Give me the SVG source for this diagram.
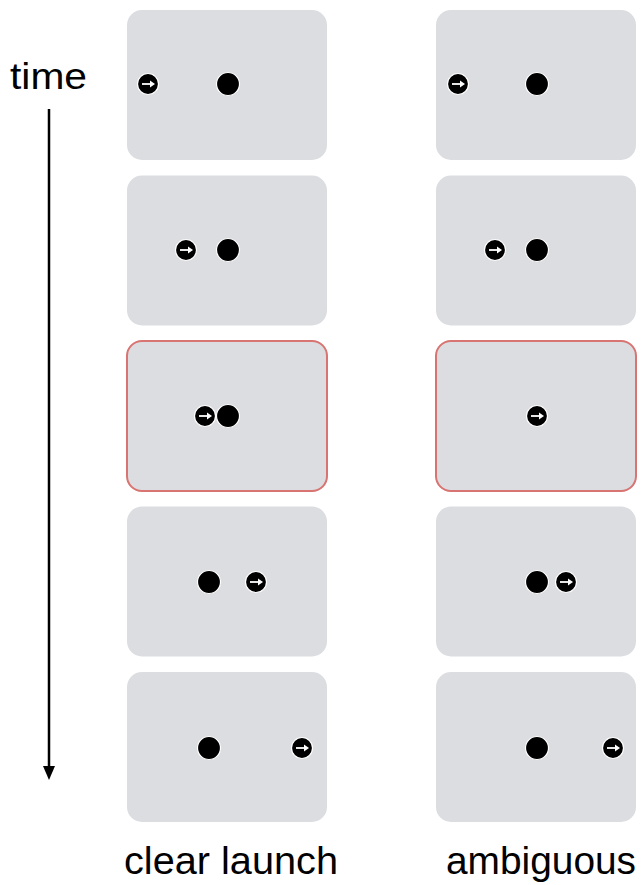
<svg xmlns="http://www.w3.org/2000/svg" width="641" height="885" viewBox="0 0 641 885">
<style>
.panel{fill:#dcdde0;stroke:none}
.hl{stroke:#d87472;stroke-width:2}
.ball{fill:#000;stroke:#fff;stroke-width:1.2}
.mv{fill:#000;stroke:#fff;stroke-width:1.2}
.ar{stroke:#fff;stroke-width:1.8;fill:none}
.lbl{font-family:"Liberation Sans",Arial,sans-serif;fill:#000}
</style>
<defs>
<g id="mover">
<circle r="10.5" class="mv"/>
<line x1="-6" y1="0" x2="3" y2="0" class="ar"/>
<polygon points="2,-3.5 7,0 2,3.5" fill="#fff"/>
</g>
</defs>
<text class="lbl" x="10" y="89" font-size="37" textLength="77" lengthAdjust="spacingAndGlyphs">time</text>
<g id="connectors">
<line x1="49" y1="109" x2="49" y2="772" stroke="#000" stroke-width="2.5"/>
<polygon points="43,766 55,766 49,780" fill="#000"/>
</g>
<g id="clear-1"><rect class="panel" x="127" y="10" width="200" height="150" rx="15"/><use href="#mover" x="148" y="84"/><circle class="ball" cx="228" cy="84" r="11.5"/></g>
<g id="clear-2"><rect class="panel" x="127" y="175.5" width="200" height="150" rx="15"/><use href="#mover" x="186" y="250"/><circle class="ball" cx="228" cy="250" r="11.5"/></g>
<g id="clear-3"><rect class="panel hl" x="127" y="341" width="200" height="150" rx="15"/><use href="#mover" x="205" y="416"/><circle class="ball" cx="228" cy="416" r="11.5"/></g>
<g id="clear-4"><rect class="panel" x="127" y="506.5" width="200" height="150" rx="15"/><circle class="ball" cx="209" cy="582" r="11.5"/><use href="#mover" x="256" y="582"/></g>
<g id="clear-5"><rect class="panel" x="127" y="672" width="200" height="150" rx="15"/><circle class="ball" cx="209" cy="748" r="11.5"/><use href="#mover" x="302" y="748"/></g>
<g id="amb-1"><rect class="panel" x="436" y="10" width="200" height="150" rx="15"/><use href="#mover" x="458" y="84"/><circle class="ball" cx="537" cy="84" r="11.5"/></g>
<g id="amb-2"><rect class="panel" x="436" y="175.5" width="200" height="150" rx="15"/><use href="#mover" x="495" y="250"/><circle class="ball" cx="537" cy="250" r="11.5"/></g>
<g id="amb-3"><rect class="panel hl" x="436" y="341" width="200" height="150" rx="15"/><use href="#mover" x="537" y="416"/></g>
<g id="amb-4"><rect class="panel" x="436" y="506.5" width="200" height="150" rx="15"/><circle class="ball" cx="537" cy="582" r="11.5"/><use href="#mover" x="566" y="582"/></g>
<g id="amb-5"><rect class="panel" x="436" y="672" width="200" height="150" rx="15"/><circle class="ball" cx="537" cy="748" r="11.5"/><use href="#mover" x="613" y="748"/></g>
<text class="lbl" x="124" y="874" font-size="38" textLength="214" lengthAdjust="spacingAndGlyphs">clear launch</text>
<text class="lbl" x="446" y="874" font-size="38" textLength="190" lengthAdjust="spacingAndGlyphs">ambiguous</text>
</svg>
